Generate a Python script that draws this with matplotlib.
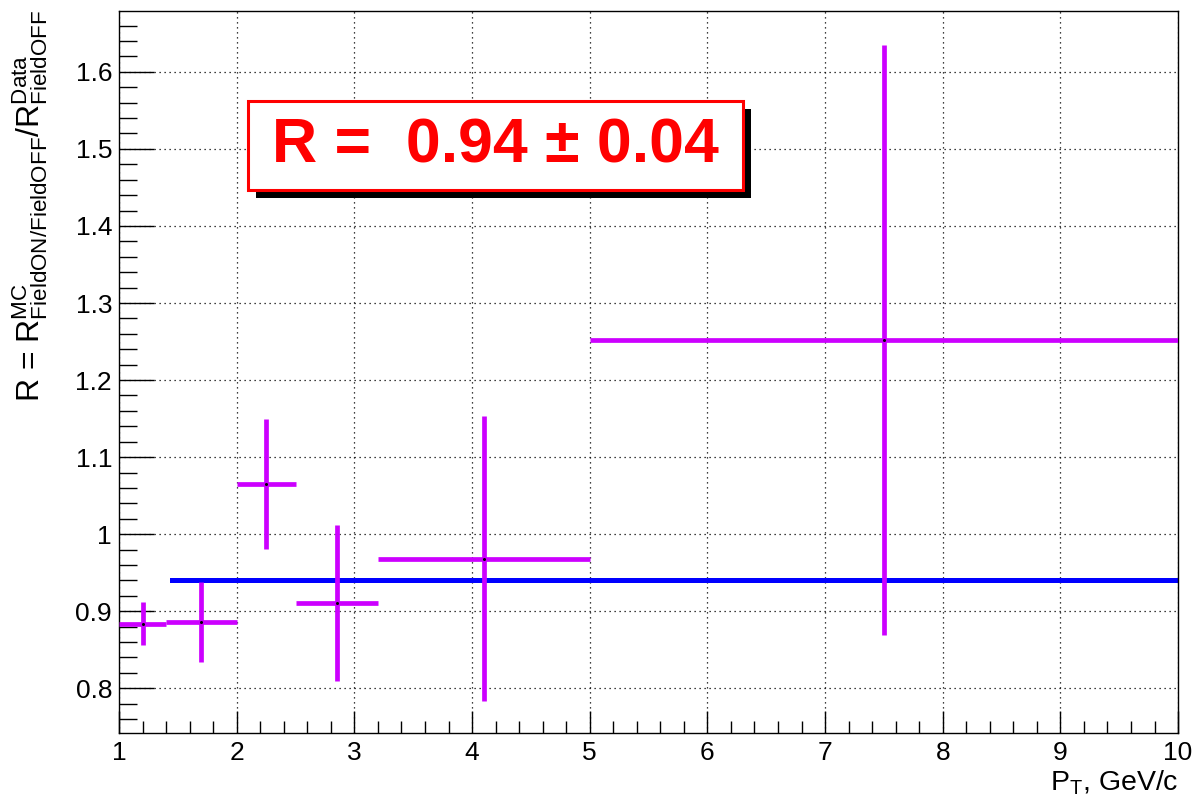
import numpy as np
import matplotlib
matplotlib.use("Agg")
import matplotlib.pyplot as plt
from matplotlib.patches import Rectangle
from matplotlib.ticker import MultipleLocator, FixedLocator

plt.rcParams['font.family'] = ['Liberation Sans', 'DejaVu Sans']
plt.rcParams['mathtext.fontset'] = 'custom'
plt.rcParams['mathtext.rm'] = 'Liberation Sans'

# pT bins and the MC/Data ratio in each
bin_lo = [1.0, 1.4, 2.0, 2.5, 3.2, 5.0]
bin_hi = [1.4, 2.0, 2.5, 3.2, 5.0, 10.0]
ratio = [0.884, 0.886, 1.065, 0.911, 0.968, 1.252]
ratio_err = [0.028, 0.052, 0.084, 0.101, 0.185, 0.383]

# constant fit
fit_value = 0.94
fit_error = 0.04
fit_range = [1.45, 10.0]

y_ticks = [0.8, 0.9, 1.0, 1.1, 1.2, 1.3, 1.4, 1.5, 1.6]
y_tick_labels = ['0.8', '0.9', '1', '1.1', '1.2', '1.3', '1.4', '1.5', '1.6']
x_ticks = [1, 2, 3, 4, 5, 6, 7, 8, 9, 10]

lo = np.array(bin_lo)
hi = np.array(bin_hi)
xc = (lo + hi) / 2
xw = (hi - lo) / 2

fig = plt.figure(figsize=(12, 8.01), dpi=100)
ax = fig.add_axes([0.0992, 0.0849, 0.8825, 0.9014])

ax.errorbar(xc, ratio, xerr=xw, yerr=ratio_err, fmt='none',
            ecolor='#cc00ff', elinewidth=3.4, capsize=0, zorder=3)
ax.plot(xc, ratio, 'o', ms=1.2, color='black', zorder=4)
ax.plot(fit_range, [fit_value, fit_value], color='#0000ff', lw=3.6, zorder=2)

ax.set_xlim(1, 10)
ax.set_ylim(0.742, 1.679)

ax.xaxis.set_major_locator(FixedLocator(x_ticks))
ax.xaxis.set_minor_locator(MultipleLocator(0.2))
ax.yaxis.set_major_locator(FixedLocator(y_ticks))
ax.set_yticklabels(y_tick_labels)
ax.yaxis.set_minor_locator(MultipleLocator(0.02))

ax.grid(True, which='major', color='black', linestyle=(0, (1, 3)), lw=0.9)
ax.tick_params(axis='both', which='both', direction='in', top=False, right=False,
               labelsize=19, width=1.0)
ax.tick_params(axis='y', which='major', length=25, pad=5)
ax.tick_params(axis='y', which='minor', length=13)
ax.tick_params(axis='x', which='major', length=16, pad=6)
ax.tick_params(axis='x', which='minor', length=8.5)
for s in ax.spines.values():
    s.set_linewidth(1.0)

fig.text(0.025, 0.988,
         r'R = $\mathregular{R^{MC}_{FieldON/FieldOFF}}$/$\mathregular{R^{Data}_{FieldOFF}}$',
         rotation=90, ha='center', va='top', fontsize=23)
fig.text(0.9817, 0.0137, r'$\mathregular{P_{T}}$, GeV/c', ha='right', va='baseline',
         fontsize=20.5)

# fit result box with shadow
bx0, bx1, by0, by1 = 0.1218, 0.589, 0.752, 0.875
dx, dy = 0.0076, 0.011
ax.add_patch(Rectangle((bx0 + dx, by0 - dy), bx1 - bx0, by1 - by0, transform=ax.transAxes,
                       facecolor='black', edgecolor='none', zorder=5))
ax.add_patch(Rectangle((bx0, by0), bx1 - bx0, by1 - by0, transform=ax.transAxes,
                       facecolor='white', edgecolor='#ff0000', lw=2.2, zorder=6))
ax.text((bx0 + bx1) / 2, (by0 + by1) / 2,
        'R =  %.2f \u00b1 %.2f' % (fit_value, fit_error),
        transform=ax.transAxes, ha='center', va='center', color='#ff0000',
        fontsize=45, fontweight='bold', zorder=7)

fig.savefig('out.png', dpi=100)
